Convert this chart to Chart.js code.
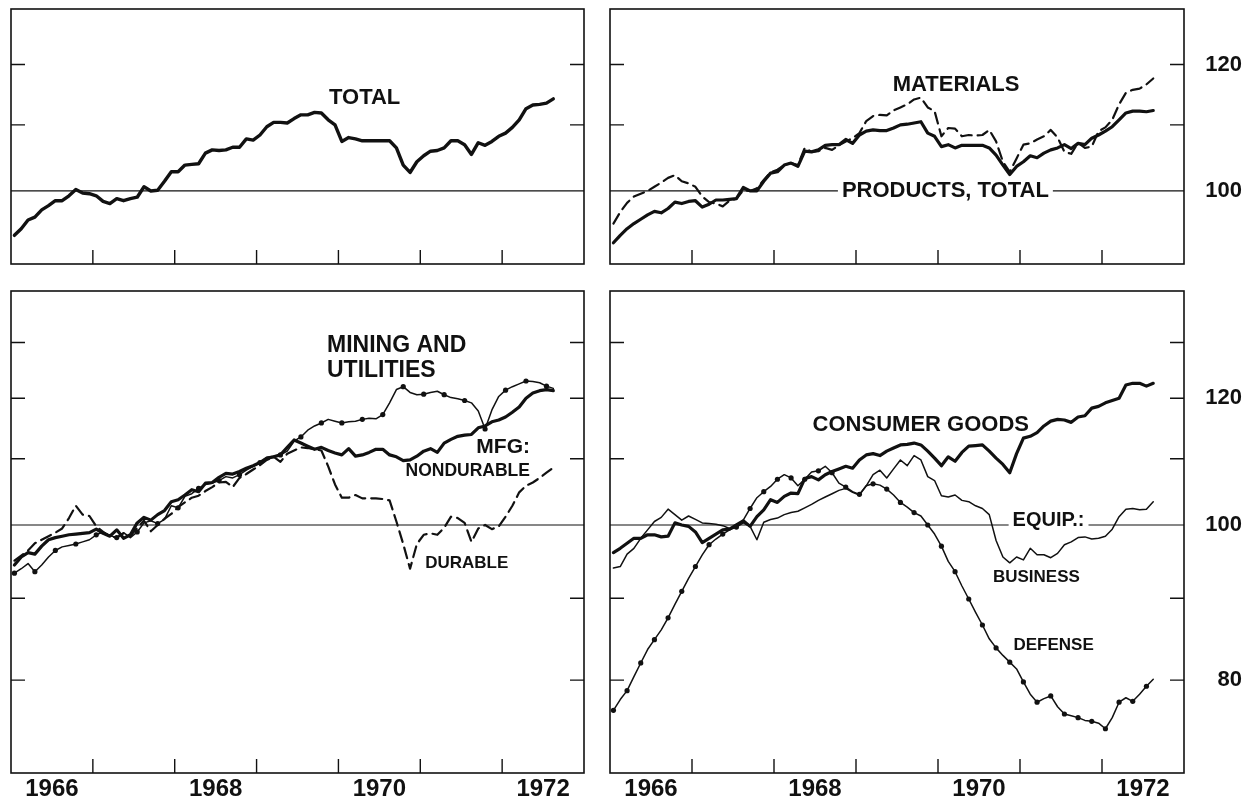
<!DOCTYPE html>
<html>
<head>
<meta charset="utf-8">
<script src="https://cdn.jsdelivr.net/npm/chart.js@4.4.1/dist/chart.umd.min.js"></script>
<style>
  body { margin: 0; background: #fff; width: 1249px; height: 798px; position: relative; overflow: hidden; }
  canvas { position: absolute; }
</style>
</head>
<body>
<canvas id="tl" width="600" height="280" style="left:0;top:0"></canvas>
<canvas id="tr" width="649" height="280" style="left:600px;top:0"></canvas>
<canvas id="bl" width="600" height="518" style="left:0;top:280px"></canvas>
<canvas id="br" width="649" height="518" style="left:600px;top:280px"></canvas>
<script>
// monthly index values, Jan 1966 .. Aug 1972 (1967 = 100)
const startYear = 1966;
const yearLabels = ['1966', '1968', '1970', '1972'];
const yearTicks = [1967, 1968, 1969, 1970, 1971, 1972];
const topValueLabels = [100, 120];
const bottomValueLabels = [80, 100, 120];
const topTickMarks = [110, 120];
const bottomTickMarks = [80, 90, 110, 120, 130];

const total = [93.8, 94.7, 95.9, 96.3, 97.3, 97.9, 98.6, 98.6, 99.3, 100.2,
  99.7, 99.6, 99.3, 98.5, 98.2, 98.9, 98.6, 98.9, 99.1, 100.6,
  100.0, 100.1, 101.4, 102.8, 102.8, 103.8, 103.9, 104.0, 105.6, 106.1,
  106.0, 106.1, 106.5, 106.5, 107.8, 107.6, 108.4, 109.7, 110.4, 110.4,
  110.3, 111.0, 111.6, 111.6, 112.0, 111.9, 110.8, 110.0, 107.4, 108.0,
  107.8, 107.5, 107.5, 107.5, 107.5, 107.5, 106.4, 103.8, 102.7, 104.3,
  105.2, 105.9, 106.0, 106.4, 107.5, 107.5, 106.9, 105.4, 107.2, 106.8,
  107.4, 108.2, 108.7, 109.6, 110.8, 112.6, 113.2, 113.3, 113.5, 114.2];

const products = [92.8, 93.8, 94.7, 95.4, 96.0, 96.6, 97.1, 96.9, 97.5, 98.4,
  98.2, 98.5, 98.6, 97.7, 98.1, 98.7, 98.7, 98.8, 98.9, 100.5,
  100.0, 100.0, 101.4, 102.6, 102.8, 103.8, 104.1, 103.6, 105.9, 105.8,
  106.1, 106.8, 106.9, 106.9, 107.7, 107.1, 108.4, 109.0, 109.2, 109.1,
  109.1, 109.5, 110.0, 110.1, 110.3, 110.5, 108.7, 108.2, 106.6, 106.9,
  106.4, 106.8, 106.8, 106.8, 106.8, 106.4, 105.3, 103.8, 102.4, 103.6,
  104.3, 105.2, 104.9, 105.6, 106.1, 106.4, 106.9, 106.3, 107.1, 106.9,
  107.9, 108.4, 109.0, 109.7, 110.8, 111.9, 112.2, 112.2, 112.1, 112.3];

const materials = [95.4, 97.0, 98.3, 99.2, 99.6, 100.0, 100.6, 101.2, 101.9, 102.3,
  101.4, 101.1, 100.6, 99.2, 98.4, 98.2, 97.8, 98.6, 98.9, 100.1,
  100.0, 100.4, 101.6, 102.7, 103.1, 103.8, 104.1, 103.8, 106.4, 105.8,
  105.9, 106.4, 106.1, 106.8, 107.4, 107.9, 108.7, 110.6, 111.4, 111.6,
  111.5, 112.3, 112.8, 113.3, 114.1, 114.4, 112.8, 112.2, 108.2, 109.5,
  109.4, 108.2, 108.4, 108.3, 108.4, 109.2, 107.4, 104.3, 102.8, 104.8,
  106.9, 107.1, 107.7, 108.2, 109.2, 108.0, 105.8, 105.5, 107.2, 106.4,
  106.6, 109.0, 109.6, 110.8, 113.3, 115.2, 115.7, 115.9, 116.6, 117.6];

const miningUtilities = [93.3, 93.9, 94.6, 93.5, 94.4, 95.5, 96.4, 96.9, 97.1, 97.3,
  97.6, 97.9, 98.6, 99.0, 98.5, 98.2, 98.9, 98.2, 99.0, 100.3,
  100.6, 100.2, 100.8, 102.8, 102.5, 104.2, 104.6, 105.4, 106.0, 106.2,
  106.6, 107.2, 107.0, 107.5, 108.2, 108.8, 109.4, 110.2, 110.4, 110.6,
  111.2, 112.8, 113.5, 114.6, 115.3, 115.8, 116.4, 116.1, 115.8, 116.0,
  116.1, 116.4, 116.6, 116.5, 117.2, 119.2, 121.5, 122.0, 121.0, 120.6,
  120.7, 121.0, 121.2, 120.6, 120.1, 119.9, 119.6, 119.2, 117.8, 114.8,
  118.0, 120.3, 121.4, 122.0, 122.5, 123.0, 122.9, 122.7, 122.1, 121.7];

const nondurable = [94.4, 95.5, 96.1, 95.9, 97.0, 97.9, 98.2, 98.4, 98.6, 98.7,
  98.8, 98.9, 99.4, 98.8, 98.4, 99.3, 98.1, 98.6, 100.3, 101.1,
  100.7, 101.5, 102.1, 103.4, 103.7, 104.4, 105.2, 104.9, 106.2, 106.3,
  107.1, 107.7, 107.6, 108.0, 108.5, 108.9, 109.4, 110.1, 110.3, 110.6,
  111.8, 113.0, 112.5, 112.0, 111.5, 111.8, 111.3, 110.9, 110.6, 111.6,
  110.4, 110.6, 111.0, 111.5, 111.5, 110.6, 110.3, 109.7, 109.8, 110.4,
  111.2, 111.6, 111.0, 112.5, 113.1, 113.6, 113.8, 113.9, 115.0, 115.3,
  116.0, 116.3, 116.8, 117.6, 118.5, 120.0, 120.9, 121.3, 121.5, 121.3];

const durable = [95.0, 95.7, 96.4, 97.4, 97.9, 98.4, 98.9, 99.5, 101.0, 102.8,
  101.5, 101.3, 99.8, 99.0, 98.4, 98.2, 98.8, 98.4, 99.6, 100.6,
  99.1, 100.0, 100.9, 101.6, 102.6, 103.3, 104.0, 104.3, 105.0, 105.6,
  106.3, 106.4, 105.6, 107.0, 107.6, 108.3, 109.0, 109.8, 110.3, 109.5,
  110.8, 111.3, 111.8, 111.7, 111.5, 111.3, 108.8, 106.0, 104.0, 104.0,
  104.4, 103.9, 103.9, 103.9, 103.8, 103.6, 100.5, 97.3, 93.9, 97.3,
  98.6, 98.8, 98.6, 99.6, 101.2, 101.0, 100.3, 97.6, 99.5, 100.0,
  99.4, 99.8, 101.2, 102.8, 104.8, 105.8, 106.3, 107.0, 107.8, 108.6];

const consumerGoods = [96.1, 96.7, 97.4, 98.1, 98.1, 98.6, 98.6, 98.3, 98.4, 100.3,
  100.0, 99.8, 99.0, 97.5, 98.1, 98.7, 99.3, 99.4, 100.0, 100.6,
  99.8, 101.2, 102.2, 103.7, 103.3, 104.2, 104.7, 104.6, 106.9, 107.2,
  106.7, 107.5, 108.0, 108.4, 108.8, 108.5, 109.8, 110.6, 110.8, 110.5,
  111.2, 111.7, 112.2, 112.3, 112.5, 112.2, 111.2, 110.1, 108.9, 110.3,
  109.6, 111.0, 112.0, 112.1, 112.2, 111.2, 110.1, 109.1, 107.8, 110.8,
  113.3, 113.6, 114.2, 115.3, 116.1, 116.4, 116.3, 115.9, 116.8, 117.0,
  118.3, 118.6, 119.2, 119.6, 120.0, 122.3, 122.6, 122.6, 122.1, 122.6];

const businessEquip = [94.0, 94.2, 95.9, 96.7, 98.1, 99.3, 100.5, 101.1, 102.3, 101.5,
  100.7, 101.3, 100.8, 100.3, 100.2, 100.1, 99.9, 99.5, 99.7, 100.3,
  99.8, 97.9, 100.4, 100.8, 101.0, 101.5, 101.8, 102.0, 102.5, 103.0,
  103.6, 104.1, 104.6, 105.1, 105.4, 104.8, 104.4, 105.8, 107.5, 108.2,
  107.0, 108.4, 109.8, 108.9, 110.5, 109.8, 107.2, 106.6, 104.3, 104.1,
  104.4, 103.6, 103.4, 102.8, 102.4, 101.5, 97.8, 95.5, 94.7, 95.5,
  95.1, 96.7, 95.8, 95.8, 95.4, 96.0, 97.2, 97.6, 98.2, 98.3,
  98.0, 98.1, 98.4, 99.4, 101.2, 102.3, 102.4, 102.2, 102.3, 103.4];

const defenseEquip = [76.6, 77.8, 78.8, 80.4, 82.0, 83.6, 84.8, 86.0, 87.5, 89.2,
  90.9, 92.6, 94.2, 95.8, 97.2, 98.0, 98.7, 99.3, 99.7, 100.7,
  102.4, 104.0, 104.9, 105.7, 106.8, 107.5, 107.0, 105.8, 106.8, 107.9,
  108.1, 108.8, 107.8, 106.2, 105.6, 104.9, 104.5, 105.8, 106.1, 105.9,
  105.3, 104.4, 103.3, 102.6, 101.8, 101.3, 100.0, 98.7, 97.0, 94.9,
  93.5, 91.6, 89.9, 88.2, 86.6, 84.9, 83.8, 82.9, 82.1, 81.3,
  79.8, 78.4, 77.5, 77.9, 78.2, 77.0, 76.2, 76.0, 75.8, 75.5,
  75.4, 75.2, 74.6, 75.8, 77.5, 78.0, 77.6, 78.4, 79.3, 80.1];

const ink = '#111';
const family = "'Liberation Sans', Arial, sans-serif";

// month i is plotted at the middle of its month
const toPoints = vals => vals.map((v, i) => ({ x: startYear + (i + 0.5) / 12, y: v }));

// frame, inward tick marks, 100 line and the hand-lettered captions
const frame = {
  id: 'frame',
  beforeDatasetsDraw(chart) {
    const { ctx, chartArea: a, scales: { y } } = chart;
    const p = y.getPixelForValue(100);
    ctx.save();
    ctx.strokeStyle = ink;
    ctx.lineWidth = 1.2;
    ctx.beginPath();
    ctx.moveTo(a.left, p);
    ctx.lineTo(a.right, p);
    ctx.stroke();
    ctx.restore();
  },
  afterDatasetsDraw(chart, args, o) {
    const { ctx, chartArea: a, scales: { x, y } } = chart;
    ctx.save();
    o.captions.forEach(l => {
      ctx.font = `bold ${l.size}px ${family}`;
      ctx.textAlign = l.align || 'center';
      ctx.textBaseline = 'middle';
      const px = x.getPixelForValue(l.x);
      const py = y.getPixelForValue(l.y);
      if (l.bg) {
        const w = ctx.measureText(l.text).width;
        const left = l.align === 'left' ? px : l.align === 'right' ? px - w : px - w / 2;
        ctx.fillStyle = '#fff';
        ctx.fillRect(left - 4, py - l.size / 2, w + 8, l.size);
      }
      ctx.fillStyle = ink;
      ctx.fillText(l.text, px, py);
    });
    ctx.strokeStyle = ink;
    ctx.lineWidth = 1.6;
    ctx.strokeRect(a.left, a.top, a.right - a.left, a.bottom - a.top);
    ctx.lineWidth = 1.4;
    ctx.beginPath();
    o.marks.forEach(v => {
      const p = y.getPixelForValue(v);
      ctx.moveTo(a.left, p); ctx.lineTo(a.left + 14, p);
      ctx.moveTo(a.right, p); ctx.lineTo(a.right - 14, p);
    });
    yearTicks.forEach(v => {
      const p = x.getPixelForValue(v);
      ctx.moveTo(p, a.bottom); ctx.lineTo(p, a.bottom - 14);
    });
    ctx.stroke();
    ctx.restore();
  }
};

function panel(id, cfg) {
  return new Chart(document.getElementById(id), {
    type: 'line',
    data: {
      datasets: cfg.series.map(s => ({
        data: toPoints(s.values),
        borderColor: ink,
        borderWidth: s.width,
        borderDash: s.dash || [],
        borderJoinStyle: 'round',
        borderCapStyle: 'round',
        pointRadius: s.dotEvery ? c => (c.dataIndex % s.dotEvery === 0 ? 2.6 : 0) : 0,
        pointBackgroundColor: ink,
        pointBorderWidth: 0,
        tension: 0,
        fill: false
      }))
    },
    options: {
      responsive: false,
      animation: false,
      devicePixelRatio: 1,
      layout: { padding: cfg.padding },
      events: [],
      plugins: {
        legend: { display: false },
        tooltip: { enabled: false },
        frame: { captions: cfg.captions, marks: cfg.marks }
      },
      scales: {
        x: {
          type: 'linear', min: 1966, max: 1973,
          display: cfg.years,
          grid: { display: false, drawTicks: false },
          border: { display: false },
          afterBuildTicks: s => { s.ticks = yearLabels.map(t => ({ value: Number(t) + 0.5 })); },
          afterFit: s => {
            if (cfg.years) s.height = 25;
            s.paddingLeft = 0; s.paddingRight = 0;
          },
          ticks: {
            callback: v => String(Math.floor(v)),
            font: { family, size: 24, weight: 'bold' },
            color: ink, padding: 2, maxRotation: 0, autoSkip: false
          }
        },
        y: {
          type: 'logarithmic', position: 'right',
          min: cfg.min, max: cfg.max,
          display: cfg.values != null,
          grid: { display: false, drawTicks: false },
          border: { display: false },
          afterBuildTicks: s => { s.ticks = (cfg.values || []).map(v => ({ value: v })); },
          afterFit: s => {
            if (cfg.values) s.width = 58;
            s.paddingTop = 0; s.paddingBottom = 0;
          },
          ticks: {
            callback: v => String(v),
            font: { family, size: 22, weight: 'bold' },
            color: ink, padding: 21, crossAlign: 'far', autoSkip: false
          }
        }
      }
    },
    plugins: [frame]
  });
}

panel('tl', {
  min: 90, max: 130, years: false, values: null, marks: topTickMarks,
  padding: { left: 11, top: 9, right: 16, bottom: 16 },
  series: [{ values: total, width: 3.4 }],
  captions: [{ text: 'TOTAL', x: 1970.32, y: 114.3, size: 22 }]
});

panel('tr', {
  min: 90, max: 130, years: false, values: topValueLabels, marks: topTickMarks,
  padding: { left: 10, top: 9, right: 7, bottom: 16 },
  series: [
    { values: materials, width: 2.2, dash: [11, 6] },
    { values: products, width: 3.2 }
  ],
  captions: [
    { text: 'MATERIALS', x: 1970.22, y: 116.5, size: 22 },
    { text: 'PRODUCTS, TOTAL', x: 1970.09, y: 100, size: 22, bg: true }
  ]
});

panel('bl', {
  min: 70, max: 140, years: true, values: null, marks: bottomTickMarks,
  padding: { left: 11, top: 11, right: 16, bottom: 0 },
  series: [
    { values: durable, width: 2.2, dash: [11, 6] },
    { values: miningUtilities, width: 1.5, dotEvery: 3 },
    { values: nondurable, width: 3.2 }
  ],
  captions: [
    { text: 'MINING AND', x: 1969.86, y: 129.4, size: 23, align: 'left' },
    { text: 'UTILITIES', x: 1969.86, y: 124.8, size: 23, align: 'left' },
    { text: 'MFG:', x: 1972.34, y: 111.8, size: 21, align: 'right' },
    { text: 'NONDURABLE', x: 1972.34, y: 108.0, size: 17.5, align: 'right' },
    { text: 'DURABLE', x: 1971.06, y: 94.6, size: 17, align: 'left' }
  ]
});

panel('br', {
  min: 70, max: 140, years: true, values: bottomValueLabels, marks: bottomTickMarks,
  padding: { left: 10, top: 11, right: 7, bottom: 0 },
  series: [
    { values: defenseEquip, width: 1.5, dotEvery: 2 },
    { values: businessEquip, width: 1.5 },
    { values: consumerGoods, width: 3.2 }
  ],
  captions: [
    { text: 'CONSUMER GOODS', x: 1969.79, y: 115.5, size: 22 },
    { text: 'EQUIP.:', x: 1970.91, y: 100.6, size: 20, align: 'left', bg: true },
    { text: 'BUSINESS', x: 1970.67, y: 92.8, size: 17, align: 'left' },
    { text: 'DEFENSE', x: 1970.92, y: 84.1, size: 17, align: 'left' }
  ]
});
</script>
</body>
</html>
